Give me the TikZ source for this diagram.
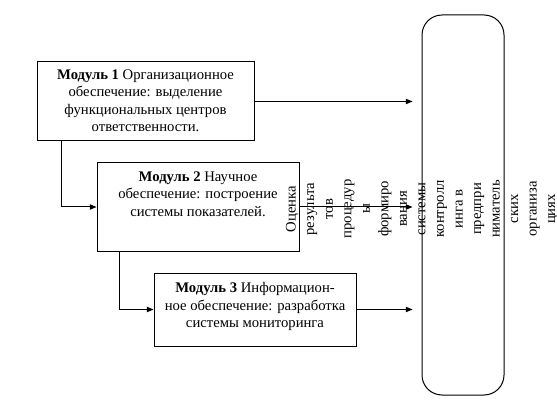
\documentclass[tikz,border=0pt]{standalone}
\usepackage{fontspec}
\setmainfont{Liberation Serif}
\usetikzlibrary{arrows.meta,positioning}

\tikzset{
  modbox/.style={draw, line width=0.75pt, minimum width=#1, inner sep=0pt},
  modtext/.style={anchor=north, align=center, inner sep=0pt, font=\fontsize{11}{13}\selectfont},
  link/.style={line width=0.75pt, -{Triangle[length=5pt,width=4pt]}},
}

\begin{document}
\begin{tikzpicture}[x=0.75pt, y=-0.75pt]
\useasboundingbox (0,0) rectangle (557,417);

% модули
\node[modbox=162.75pt, minimum height=59.25pt] (mod1) at (145.5,101.5) {};
\node[modbox=151.5pt, minimum height=66pt] (mod2) at (198,207) {};
\node[modbox=151.5pt, minimum height=54.75pt] (mod3) at (255,309.5) {};

\node[modtext] (txt1) at ([yshift=-6pt]mod1.north) {\textbf{Модуль 1} Организационное\\обеспечение: выделение\\функциональных центров\\ответственности.};
\node[modtext] (txt2) at ([yshift=-6.75pt]mod2.north) {\textbf{Модуль 2} Научное\\обеспечение: построение\\системы показателей.};
\node[modtext] (txt3) at ([yshift=-7.5pt]mod3.north) {\textbf{Модуль 3} Информацион-\\ное обеспечение: разработка\\системы мониторинга};

% итоговый блок
\node[draw, line width=0.75pt, rounded corners=15pt, minimum width=61.5pt, minimum height=285pt, inner sep=0pt] (ctrl) at (463,205) {};

% связи
\draw[link] ([xshift=18.75pt]mod1.south west) |- (mod2.west);
\draw[link] ([xshift=17.25pt]mod2.south west) |- (mod3.west);
\draw[link, shorten >=6.75pt] (mod1.east) -- (mod1.east -| ctrl.west);
\draw[link, shorten >=6.75pt] (mod2.east) -- (mod2.east -| ctrl.west);
\draw[link, shorten >=6.75pt] (mod3.east) -- (mod3.east -| ctrl.west);

% повёрнутая подпись
\node[rotate=90, align=center, inner sep=0pt, font=\fontsize{11}{13.9}\selectfont] (itog) at (422,209)
  {Оценка\\результа\\тов\\процедур\\ы\\формиро\\вания\\системы\\контролл\\инга в\\предпри\\ниматель\\ских\\организа\\циях};
\end{tikzpicture}
\end{document}
